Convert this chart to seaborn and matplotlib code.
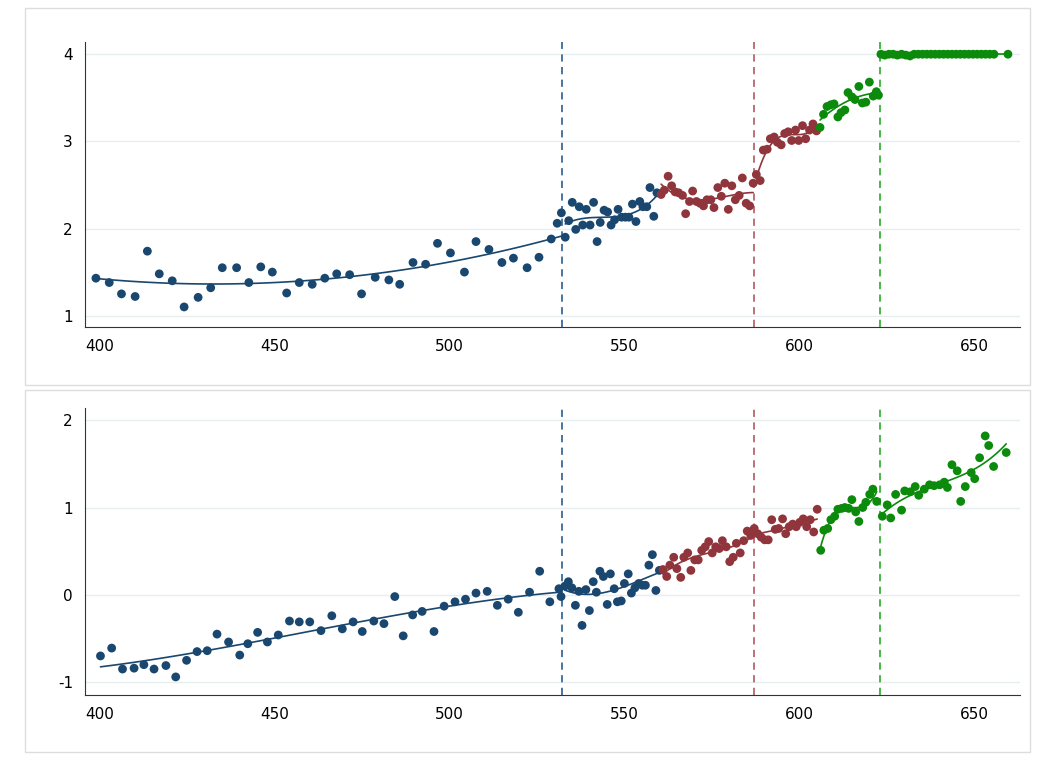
import numpy as np
import pandas as pd
import matplotlib
matplotlib.use("Agg")
import matplotlib.pyplot as plt
from matplotlib.patches import Rectangle
import seaborn as sns

# ---- top panel data ----
top_blue_x = [398.9, 402.7, 406.2, 410.1, 413.6, 417.0, 420.7, 424.1, 428.1, 431.7, 435.0, 439.1, 442.6,
              446.0, 449.3, 453.4, 457.0, 460.7, 464.3, 467.7, 471.4, 474.8, 478.7, 482.6, 485.7, 489.5,
              493.1, 496.5, 500.2, 504.2, 507.5, 511.2, 514.9, 518.2, 522.1, 525.5, 529.0, 530.7,
              531.9, 533.0, 534.0, 535.0, 536.0, 537.0, 538.0, 539.0, 540.1, 541.1, 542.1, 543.0, 544.1,
              545.1, 546.1, 547.1, 548.1, 549.1, 550.2, 551.2, 552.2, 553.2, 554.3, 555.2, 556.3, 557.2,
              558.3, 559.2]
top_blue_y = [1.43, 1.38, 1.25, 1.22, 1.74, 1.48, 1.40, 1.10, 1.21, 1.32, 1.55, 1.55, 1.38,
              1.56, 1.50, 1.26, 1.38, 1.36, 1.43, 1.48, 1.47, 1.25, 1.44, 1.41, 1.36, 1.61,
              1.59, 1.83, 1.72, 1.50, 1.85, 1.76, 1.61, 1.66, 1.55, 1.67, 1.88, 2.06,
              2.18, 1.90, 2.09, 2.30, 1.99, 2.25, 2.04, 2.22, 2.04, 2.30, 1.85, 2.07, 2.21,
              2.19, 2.04, 2.10, 2.22, 2.13, 2.13, 2.13, 2.28, 2.08, 2.31, 2.25, 2.25, 2.47,
              2.14, 2.41]
top_red_x = [560.4, 561.3, 562.4, 563.4, 564.4, 565.4, 566.5, 567.4, 568.5, 569.4, 570.5, 571.5, 572.5,
             573.5, 574.6, 575.5, 576.6, 577.6, 578.6, 579.6, 580.6, 581.6, 582.7, 583.6, 584.7, 585.7,
             586.7, 587.6, 588.7, 589.6, 590.7, 591.6, 592.7, 593.6, 594.7, 595.7, 596.7, 597.7, 598.8,
             599.7, 600.8, 601.7, 602.8, 603.8, 604.8]
top_red_y = [2.39, 2.44, 2.60, 2.49, 2.42, 2.41, 2.38, 2.17, 2.31, 2.43, 2.31, 2.29, 2.26,
             2.33, 2.33, 2.24, 2.47, 2.37, 2.52, 2.22, 2.49, 2.33, 2.38, 2.58, 2.29, 2.26,
             2.52, 2.62, 2.55, 2.90, 2.91, 3.03, 3.05, 2.99, 2.96, 3.09, 3.11, 3.01, 3.13,
             3.01, 3.18, 3.03, 3.13, 3.20, 3.12]
top_green_x = [605.8, 606.8, 607.8, 608.9, 609.8, 610.9, 611.8, 612.9, 613.8, 614.9, 615.8, 616.9,
               617.9, 618.9, 619.9, 621.0, 621.9, 622.5,
               623.2, 624.3, 625.5, 626.7, 627.9, 629.1, 630.3, 631.5, 632.7, 633.9, 635.1, 636.3,
               637.5, 638.7, 639.9, 641.1, 642.3, 643.5, 644.7, 645.9, 647.1, 648.3, 649.5, 650.7,
               651.9, 653.1, 654.3, 655.5, 659.5]
top_green_y = [3.16, 3.31, 3.40, 3.42, 3.43, 3.28, 3.33, 3.36, 3.56, 3.51, 3.48, 3.63,
               3.44, 3.45, 3.68, 3.52, 3.57, 3.53,
               4.00, 3.99, 4.00, 4.00, 3.99, 4.00, 3.99, 3.98, 4.00, 4.00, 4.00, 4.00,
               4.00, 4.00, 4.00, 4.00, 4.00, 4.00, 4.00, 4.00, 4.00, 4.00, 4.00, 4.00,
               4.00, 4.00, 4.00, 4.00, 4.00]

# ---- bottom panel data ----
bot_blue_x = [400.2, 403.4, 406.5, 409.8, 412.6, 415.5, 418.9, 421.7, 424.8, 427.8, 430.7, 433.5, 436.8,
              440.0, 442.3, 445.1, 447.9, 451.0, 454.2, 457.0, 460.0, 463.2, 466.3, 469.3, 472.4, 475.0,
              478.3, 481.2, 484.3, 486.7, 489.4, 492.1, 495.5, 498.4, 501.5, 504.5, 507.5, 510.7, 513.6,
              516.7, 519.6, 522.8, 525.7, 528.6, 531.2,
              531.8, 532.9, 533.9, 534.9, 535.9, 536.9, 537.8, 538.9, 539.9, 541.0, 541.9, 542.9, 543.9,
              545.0, 545.9, 547.0, 547.9, 549.0, 549.9, 551.0, 551.9, 552.9, 554.0, 555.0, 555.9, 556.9,
              557.9, 558.9, 559.9]
bot_blue_y = [-0.70, -0.61, -0.85, -0.84, -0.80, -0.85, -0.81, -0.94, -0.75, -0.65, -0.64, -0.45, -0.54,
              -0.69, -0.56, -0.43, -0.54, -0.46, -0.30, -0.31, -0.31, -0.41, -0.24, -0.39, -0.31, -0.42,
              -0.30, -0.33, -0.02, -0.47, -0.23, -0.19, -0.42, -0.13, -0.08, -0.05, 0.02, 0.04, -0.12,
              -0.05, -0.20, 0.03, 0.27, -0.08, 0.07,
              -0.02, 0.10, 0.15, 0.08, -0.12, 0.04, -0.35, 0.06, -0.18, 0.15, 0.03, 0.27, 0.21,
              -0.11, 0.24, 0.07, -0.08, -0.07, 0.13, 0.24, 0.02, 0.08, 0.13, 0.11, 0.11, 0.34,
              0.46, 0.05, 0.28]
bot_red_x = [560.9, 562.0, 562.9, 564.0, 564.9, 566.0, 566.9, 568.0, 568.9, 570.0, 571.0, 572.0, 573.0,
             574.0, 575.0, 576.0, 577.0, 577.9, 579.0, 580.0, 581.0, 581.9, 583.0, 584.0, 585.0, 586.0,
             587.0, 588.0, 589.0, 590.0, 591.0, 592.0, 593.0, 594.0, 595.1, 596.0, 597.0, 598.0, 599.0,
             600.0, 601.0, 602.0, 603.0, 604.0, 605.0]
bot_red_y = [0.29, 0.21, 0.34, 0.43, 0.30, 0.20, 0.43, 0.48, 0.28, 0.40, 0.40, 0.51, 0.55,
             0.61, 0.48, 0.55, 0.53, 0.62, 0.55, 0.38, 0.43, 0.59, 0.48, 0.62, 0.73, 0.68,
             0.76, 0.70, 0.66, 0.63, 0.63, 0.86, 0.75, 0.76, 0.87, 0.70, 0.78, 0.81, 0.78,
             0.83, 0.87, 0.78, 0.86, 0.72, 0.98]
bot_green_x = [606.0, 606.9, 608.0, 608.9, 610.0, 610.9, 612.0, 612.9, 614.0, 614.9, 616.0, 616.9,
               618.0, 618.9, 620.0, 620.9, 622.0,
               623.6, 625.0, 626.0, 627.4, 629.1, 630.0, 631.6, 633.0, 634.0, 635.6, 637.1, 638.4,
               640.0, 641.3, 642.2, 643.5, 645.0, 646.0, 647.3, 649.0, 650.0, 651.4, 653.0, 654.0,
               655.4, 659.0]
bot_green_y = [0.51, 0.74, 0.76, 0.86, 0.90, 0.98, 0.99, 1.00, 0.99, 1.09, 0.95, 0.84,
               1.00, 1.06, 1.15, 1.21, 1.07,
               0.90, 1.03, 0.88, 1.15, 0.97, 1.19, 1.18, 1.24, 1.14, 1.21, 1.26, 1.25,
               1.26, 1.29, 1.23, 1.49, 1.42, 1.07, 1.24, 1.40, 1.33, 1.57, 1.82, 1.71,
               1.47, 1.63]

cutoffs = [532, 587, 623]
BLUE, RED, GREEN = "#1a476f", "#90353b", "#0b8a0b"
line_colors = ["#3a6a99", "#b5676c", "#3bb03b"]


def smooth(ax, x, y, lo, hi, color, deg=3):
    x = np.asarray(x); y = np.asarray(y)
    m = (x >= lo) & (x < hi)
    if m.sum() < 3:
        return
    d = min(deg, m.sum() - 1)
    c = np.polyfit(x[m], y[m], d)
    xs = np.linspace(x[m].min(), x[m].max(), 100)
    ax.plot(xs, np.polyval(c, xs), color=color, lw=1.2, zorder=2)


def panel(ax, series, ylim, yticks, top=False):
    for (xs, ys, col) in series:
        df = pd.DataFrame({"x": xs, "y": ys})
        sns.scatterplot(data=df, x="x", y="y", color=col, s=40, edgecolor="none", ax=ax, zorder=3)
    (bx, by, _), (rx, ry, _), (gx, gy, _) = series
    smooth(ax, bx, by, 390, 532, BLUE, deg=2 if top else 3)
    smooth(ax, bx, by, 532, 561, BLUE)
    smooth(ax, rx, ry, 560, 587, RED)
    smooth(ax, rx, ry, 587, 606, RED)
    smooth(ax, gx, gy, 605, 623, GREEN)
    smooth(ax, gx, gy, 623, 670, GREEN, deg=0 if top else 3)
    for c, lc in zip(cutoffs, line_colors):
        ax.axvline(c, color=lc, ls=(0, (4, 3)), lw=1.3, zorder=1)
    ax.set_xlim(395.7, 662.9)
    ax.set_ylim(*ylim)
    ax.set_xticks([400, 450, 500, 550, 600, 650])
    ax.set_yticks(yticks)
    ax.set_xlabel("")
    ax.set_ylabel("")
    ax.grid(axis="y", color="#e6eef0", lw=1)
    ax.grid(axis="x", visible=False)
    for s in ["top", "right"]:
        ax.spines[s].set_visible(False)
    for s in ["left", "bottom"]:
        ax.spines[s].set_color("#333333")
    ax.tick_params(direction="out", length=5, labelsize=11, colors="#333333", labelcolor="black")
    ax.set_facecolor("white")


sns.set_style("white")
plt.rcParams["axes.unicode_minus"] = False
fig = plt.figure(figsize=(10.46, 7.64), dpi=100)
fig.add_artist(Rectangle((25 / 1046, 1 - 385 / 764), 1005 / 1046, 377 / 764, transform=fig.transFigure,
                         fill=False, ec="#dddddd", lw=1))
fig.add_artist(Rectangle((25 / 1046, 1 - 752 / 764), 1005 / 1046, 362 / 764, transform=fig.transFigure,
                         fill=False, ec="#dddddd", lw=1))

ax1 = fig.add_axes([0.081, 0.572, 0.894, 0.373])
ax2 = fig.add_axes([0.081, 0.090, 0.894, 0.376])

panel(ax1, [(top_blue_x, top_blue_y, BLUE), (top_red_x, top_red_y, RED), (top_green_x, top_green_y, GREEN)],
      (0.87, 4.14), [1, 2, 3, 4], top=True)
panel(ax2, [(bot_blue_x, bot_blue_y, BLUE), (bot_red_x, bot_red_y, RED), (bot_green_x, bot_green_y, GREEN)],
      (-1.15, 2.14), [-1, 0, 1, 2])

fig.savefig("out.png", dpi=100)
